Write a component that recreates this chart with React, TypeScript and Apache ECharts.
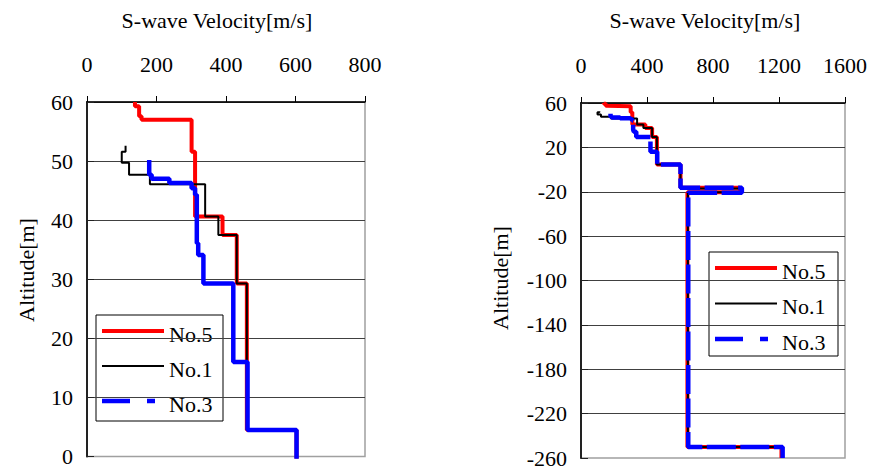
import React, { useEffect, useRef } from "react";
import * as echarts from "echarts";

const FONT = "Liberation Serif";

// Layer tops (altitude, m) and S-wave velocities (m/s) of each layer
const no5Tops = [60, 59.3, 57.6, 57, 51.6, 40.6, 37.5, 29.3, 4.5, -16.5, -20.5, -250];
const no5Vel = [138, 150, 157, 301, 311, 390, 431, 460, 603, 965, 645, 1215];
const no1Tops = [52.6, 51.6, 49.7, 47.7, 46.1, 40.6, 37.5, 29.3, 4.5, -17, -20.5, -250];
const no1Vel = [111, 100, 121, 181, 340, 378, 431, 460, 603, 970, 648, 1218];
const no3Tops = [50.2, 47.7, 47.0, 46.3, 45.4, 44.3, 36.1, 34.1, 29.3, 16.0, 4.5, -16.5, -21, -250];
const no3Vel = [179, 186, 237, 301, 311, 316, 320, 335, 421, 462, 603, 975, 650, 1222];
const profileBottom = -260;

const seriesNames = ["No.5", "No.1", "No.3"];

const leftXTicks = [0, 200, 400, 600, 800];
const leftYTicks = [0, 10, 20, 30, 40, 50, 60];
const rightXTicks = [0, 400, 800, 1200, 1600];
const rightYTicks = [-260, -220, -180, -140, -100, -60, -20, 20, 60];

const xTitle = "S-wave Velocity[m/s]";
const yTitle = "Altitude[m]";

function stairs(tops: number[], vels: number[], bottom: number) {
  const pts: number[][] = [];
  tops.forEach((t, i) => {
    const b = i < tops.length - 1 ? tops[i + 1] : bottom;
    pts.push([vels[i], t], [vels[i], b]);
  });
  return pts;
}

const plain = (v: number) => String(v);

function xAxis(gridIndex: number, ticks: number[]) {
  return {
    gridIndex,
    type: "value",
    position: "top",
    min: ticks[0],
    max: ticks[ticks.length - 1],
    interval: ticks[1] - ticks[0],
    axisLine: { show: true, onZero: false, lineStyle: { color: "#000", width: 1.5 } },
    axisTick: { show: true, inside: false, length: 6, lineStyle: { color: "#000", width: 1 } },
    axisLabel: { fontSize: 22, fontFamily: FONT, color: "#000", margin: 27, formatter: plain },
    splitLine: { show: false },
  };
}

function yAxis(gridIndex: number, ticks: number[]) {
  return {
    gridIndex,
    type: "value",
    min: ticks[0],
    max: ticks[ticks.length - 1],
    interval: ticks[1] - ticks[0],
    axisLine: { show: true, onZero: false, lineStyle: { color: "#222", width: 2 } },
    axisTick: { show: true, inside: true, length: 7, lineStyle: { color: "#222", width: 1 } },
    axisLabel: { fontSize: 22, fontFamily: FONT, color: "#000", margin: 14, formatter: plain },
    splitLine: { show: true, showMinLine: false, lineStyle: { color: "#404040", width: 1 } },
  };
}

const colors = ["#ff0000", "#000000", "#0000ff"];
const widths = [4, 2, 4.5];

function legend(x: number, y: number, w: number, h: number, rowGap: number) {
  const children: any[] = [
    {
      type: "rect",
      shape: { x, y, width: w, height: h },
      style: { fill: "#fff", stroke: "#000", lineWidth: 1 },
    },
  ];
  seriesNames.forEach((name, i) => {
    const ly = y + 16 + i * rowGap;
    children.push({
      type: "line",
      shape: { x1: x + 6, y1: ly, x2: i === 2 ? x + 59 : x + 68, y2: ly },
      style: {
        stroke: colors[i],
        lineWidth: widths[i],
        lineDash: i === 2 ? [28, 17, 8, 200] : null,
      },
    });
    children.push({
      type: "text",
      x: x + 73,
      y: ly + 3,
      style: {
        text: name,
        fontSize: 22,
        fontFamily: FONT,
        fill: "#000",
        textAlign: "left",
        textVerticalAlign: "middle",
        align: "left",
        verticalAlign: "middle",
      },
    });
  });
  return { type: "group", children };
}

function textEl(text: string, x: number, y: number, rotation = 0) {
  return {
    type: "text",
    x,
    y,
    rotation,
    style: {
      text,
      fontSize: 22,
      fontFamily: FONT,
      fill: "#000",
      textAlign: "center",
      textVerticalAlign: "middle",
      align: "center",
      verticalAlign: "middle",
    },
  };
}

export default function App() {
  const ref = useRef<HTMLDivElement>(null);
  useEffect(() => {
    if (!ref.current) return;
    const chart = echarts.init(ref.current, undefined, { renderer: "svg" });
    const data = [
      stairs(no5Tops, no5Vel, profileBottom),
      stairs(no1Tops, no1Vel, profileBottom),
      stairs(no3Tops, no3Vel, profileBottom),
    ];
    const series: any[] = [];
    [0, 1].forEach((g) => {
      data.forEach((d, i) => {
        series.push({
          type: "line",
          name: seriesNames[i],
          xAxisIndex: g,
          yAxisIndex: g,
          data: d,
          symbol: "none",
          showSymbol: false,
          silent: true,
          clip: true,
          z: 2 + i,
          lineStyle: {
            color: colors[i],
            width: widths[i],
            type: i === 2 && g === 1 ? [29, 4.5] : "solid",
          },
        });
      });
    });
    chart.setOption({
      animation: false,
      backgroundColor: "#fff",
      textStyle: { fontFamily: FONT },
      grid: [
        { left: 87, top: 102, width: 278, height: 354.5, show: true, borderColor: "#a0a0a0", borderWidth: 1.5, backgroundColor: "transparent" },
        { left: 581, top: 103, width: 264, height: 357, show: true, borderColor: "#a0a0a0", borderWidth: 1.5, backgroundColor: "transparent" },
      ],
      xAxis: [xAxis(0, leftXTicks), xAxis(1, rightXTicks)],
      yAxis: [yAxis(0, leftYTicks), yAxis(1, rightYTicks)],
      series,
      graphic: [
        textEl(xTitle, 217, 20),
        textEl(xTitle, 705, 20),
        textEl(yTitle, 26, 270, Math.PI / 2),
        textEl(yTitle, 500, 278, Math.PI / 2),
        legend(96, 315, 127, 106, 35),
        legend(709, 252, 129, 104, 35.5),
      ],
    });
    return () => chart.dispose();
  }, []);
  return (
    <div
      ref={ref}
      style={{ position: "absolute", left: 0, top: 0, width: 871, height: 469 }}
    />
  );
}
